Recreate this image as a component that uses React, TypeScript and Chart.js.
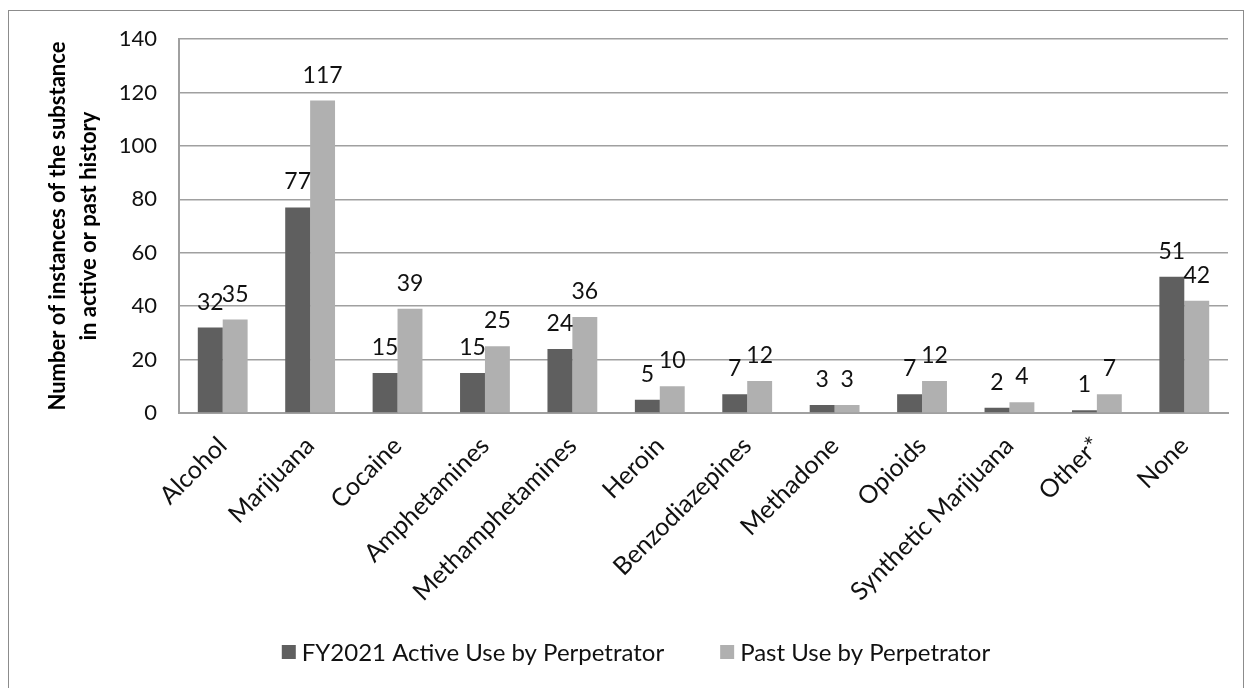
import React, { useEffect, useRef } from "react";
import { Chart, registerables } from "chart.js";

Chart.register(...registerables);

const categories = [
  "Alcohol",
  "Marijuana",
  "Cocaine",
  "Amphetamines",
  "Methamphetamines",
  "Heroin",
  "Benzodiazepines",
  "Methadone",
  "Opioids",
  "Synthetic Marijuana",
  "Other*",
  "None",
];
const activeUse = [32, 77, 15, 15, 24, 5, 7, 3, 7, 2, 1, 51];
const pastUse = [35, 117, 39, 25, 36, 10, 12, 3, 12, 4, 7, 42];
const seriesNames = ["FY2021 Active Use by Perpetrator", "Past Use by Perpetrator"];
const seriesColors = ["#5f5f5f", "#b0b0b0"];
const yTicks = [0, 20, 40, 60, 80, 100, 120, 140];
const yTitle = ["Number of instances of the substance", "in active or past history"];

const FONT = "Lato, 'Open Sans', sans-serif";

const valueLabels = {
  id: "valueLabels",
  afterDatasetsDraw(chart: any) {
    const ctx = chart.ctx;
    ctx.save();
    ctx.font = `23px ${FONT}`;
    ctx.fillStyle = "#111";
    ctx.textAlign = "center";
    ctx.textBaseline = "alphabetic";
    chart.data.datasets.forEach((ds: any, i: number) => {
      const meta = chart.getDatasetMeta(i);
      meta.data.forEach((bar: any, j: number) => {
        ctx.fillText(String(ds.data[j]), bar.x, bar.y - 18);
      });
    });
    ctx.restore();
  },
};

// Excel-style legend below the axis labels
const bottomLegend = {
  id: "bottomLegend",
  afterDraw(chart: any) {
    const ctx = chart.ctx;
    ctx.save();
    ctx.font = `24px ${FONT}`;
    ctx.textBaseline = "middle";
    ctx.textAlign = "left";
    const box = 14;
    const gap = 6;
    const spacing = 56;
    const items = chart.data.datasets.map((ds: any) => ({
      text: ds.label,
      color: ds.backgroundColor,
      w: ctx.measureText(ds.label).width,
    }));
    const total =
      items.reduce((s: number, it: any) => s + box + gap + it.w, 0) +
      spacing * (items.length - 1);
    let x = chart.width / 2 - total / 2 + 10;
    const y = chart.height - 35;
    items.forEach((it: any) => {
      ctx.fillStyle = it.color;
      ctx.fillRect(x, y - box / 2, box, box);
      ctx.fillStyle = "#111";
      ctx.fillText(it.text, x + box + gap, y + 1);
      x += box + gap + it.w + spacing;
    });
    ctx.restore();
  },
};

export default function App() {
  const ref = useRef<HTMLCanvasElement>(null);
  useEffect(() => {
    if (!ref.current) return;
    const chart = new Chart(ref.current, {
      type: "bar",
      data: {
        labels: categories,
        datasets: [
          {
            label: seriesNames[0],
            data: activeUse,
            backgroundColor: seriesColors[0],
            barPercentage: 1,
            categoryPercentage: 0.57,
          },
          {
            label: seriesNames[1],
            data: pastUse,
            backgroundColor: seriesColors[1],
            barPercentage: 1,
            categoryPercentage: 0.57,
          },
        ],
      },
      options: {
        animation: false,
        responsive: false,
        maintainAspectRatio: false,
        layout: { padding: { top: 21, right: 15, bottom: 69, left: 0 } },
        plugins: {
          legend: { display: false },
          tooltip: { enabled: false },
          title: { display: false },
        },
        scales: {
          x: {
            grid: { display: false, drawTicks: false },
            border: { color: "#a0a0a0", width: 2 },
            ticks: {
              font: { family: FONT, size: 25 },
              color: "#111",
              minRotation: 45,
              maxRotation: 45,
              autoSkip: false,
              padding: 18,
            },
            afterFit: (s: any) => {
              s.height = 205;
            },
          },
          y: {
            min: 0,
            max: 140,
            afterBuildTicks: (s: any) => {
              s.ticks = yTicks.map((v) => ({ value: v }));
            },
            grid: { color: "#a0a0a0", lineWidth: 1.5, drawTicks: false },
            border: { color: "#a0a0a0", width: 2 },
            ticks: {
              font: { family: FONT, size: 22 },
              color: "#111",
              padding: 22,
            },
            title: {
              display: true,
              text: yTitle,
              font: { family: FONT, size: 22, weight: "bold", lineHeight: 1.4 },
              color: "#000",
              padding: { top: 34, bottom: 0 },
            },
            afterFit: (s: any) => {
              s.width = 170;
            },
          },
        },
      },
      plugins: [valueLabels, bottomLegend],
    });
    return () => chart.destroy();
  }, []);
  return (
    <div
      style={{
        marginTop: 2,
        border: "1px solid #8c8c8c",
        width: 1234,
        height: 680,
        boxSizing: "content-box",
        overflow: "hidden",
      }}
    >
      <canvas
        ref={ref}
        width={1234}
        height={683}
        style={{ display: "block", marginTop: -7 }}
      />
    </div>
  );
}
